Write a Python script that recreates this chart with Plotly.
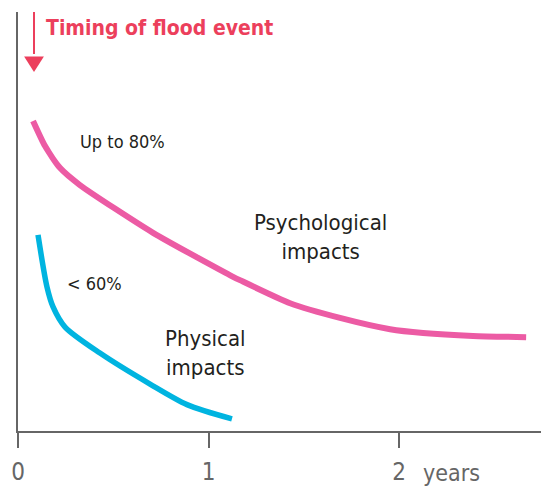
import plotly.graph_objects as go

# Data (x in years, y in arbitrary impact units 0-100)
psych_x = [0.079, 0.142, 0.220, 0.325, 0.709, 1.129, 1.165, 1.428, 1.690, 1.953, 2.126, 2.388, 2.667]
psych_y = [74.0, 68.0, 62.8, 58.7, 47.3, 36.8, 36.0, 30.5, 27.0, 24.3, 23.4, 22.7, 22.4]
phys_x = [0.105, 0.152, 0.184, 0.247, 0.430, 0.693, 0.887, 1.123]
phys_y = [46.8, 34.4, 29.6, 24.8, 18.6, 11.2, 6.3, 2.9]
tick_vals = [0, 1, 2]
tick_text = ["0", "1", "2"]
flood_x = 0.084

FONT = "DejaVu Sans Condensed, Liberation Sans Narrow, sans-serif"
PINK = "#ec5ba4"
CYAN = "#00b4e0"
RED = "#ec3f5c"
GRAY = "#666666"
TXT = "#231f20"

fig = go.Figure()
fig.add_trace(go.Scatter(x=psych_x, y=psych_y, mode="lines",
                         line=dict(color=PINK, width=6, shape="spline", smoothing=0.6),
                         hoverinfo="skip"))
fig.add_trace(go.Scatter(x=phys_x, y=phys_y, mode="lines",
                         line=dict(color=CYAN, width=5.5, shape="spline", smoothing=0.8),
                         hoverinfo="skip"))

# Arrow for timing of flood event
fig.add_shape(type="line", xref="x", yref="paper", x0=flood_x, x1=flood_x,
              y0=1.0, y1=0.90, line=dict(color=RED, width=2))
hw = 0.052
fig.add_shape(type="path", xref="x", yref="paper",
              path=f"M {flood_x-hw} 0.894 L {flood_x+hw} 0.894 L {flood_x} 0.857 Z",
              fillcolor=RED, line=dict(color=RED, width=0))

annots = [
    dict(text="<b>Timing of flood event</b>", x=0.0497, y=0.962, xref="paper", yref="paper",
         xanchor="left", yanchor="middle", font=dict(size=21, color=RED, family=FONT)),
    dict(text="Up to 80%", x=0.546, y=69.0, font=dict(size=18, color=TXT, family=FONT)),
    dict(text="< 60%", x=0.404, y=35.3, font=dict(size=18, color=TXT, family=FONT)),
    dict(text="Psychological<br>impacts", x=1.59, y=46.3, font=dict(size=22, color=TXT, family=FONT)),
    dict(text="Physical<br>impacts", x=0.983, y=18.5, font=dict(size=22, color=TXT, family=FONT)),
    dict(text="years", x=0.828, y=-0.100, xref="paper", yref="paper",
         font=dict(size=23, color=GRAY, family=FONT)),
]
for a in annots:
    a.setdefault("xref", "x")
    a.setdefault("yref", "y")
    a.setdefault("xanchor", "center")
    a.setdefault("yanchor", "middle")
    a["showarrow"] = False
    fig.add_annotation(**a)

fig.update_layout(
    width=541, height=487,
    margin=dict(l=18, r=0, t=12, b=56, autoexpand=False),
    plot_bgcolor="white", paper_bgcolor="white",
    showlegend=False,
    xaxis=dict(range=[0, 2.745], tickvals=tick_vals, ticktext=tick_text,
               showgrid=False, zeroline=False, showline=True, linecolor=GRAY, linewidth=2,
               ticks="outside", ticklen=15, tickwidth=2, tickcolor=GRAY, automargin=False,
               ticklabelstandoff=3,
               tickfont=dict(size=24, color=GRAY, family=FONT)),
    yaxis=dict(range=[0, 100], showgrid=False, zeroline=False, showline=True, automargin=False,
               linecolor=GRAY, linewidth=2, showticklabels=False, ticks=""),
)
fig.write_html("out.html", config={"displayModeBar": False},
               post_script="document.body.style.margin='0';document.body.style.overflow='hidden';")
